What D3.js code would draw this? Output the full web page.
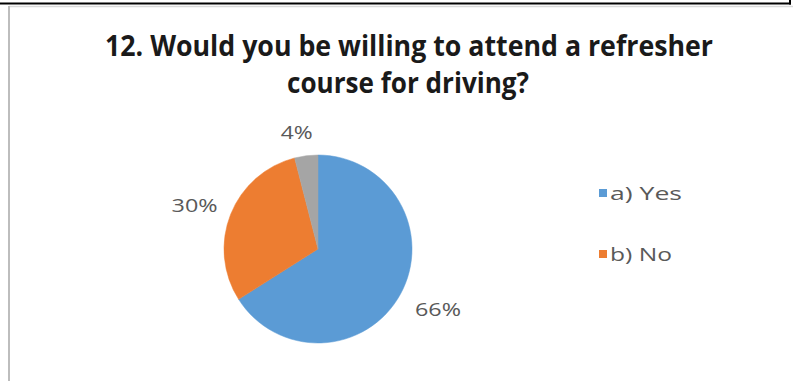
<!DOCTYPE html>
<html>
<head>
<meta charset="utf-8">
<script src="https://cdn.jsdelivr.net/npm/d3@7"></script>
<style>
  html, body { margin: 0; padding: 0; background: #fff; }
  svg { display: block; }
</style>
</head>
<body>
<svg id="chart" width="793" height="381"></svg>
<script>
// Survey answers
const categories = ["a) Yes", "b) No", "c) Other"];
const shares = [66, 30, 4];
const sliceColors = ["#5B9BD5", "#ED7D31", "#A5A5A5"];
const legendCategories = ["a) Yes", "b) No"];
const titleLines = ["12. Would you be willing to attend a refresher", "course for driving?"];

const svg = d3.select("#chart");
const W = 793, H = 381;

// frame: dark top rule with a soft grey edge under it, grey left edge
svg.append("line").attr("x1", 0).attr("x2", 791).attr("y1", 3.5).attr("y2", 3.5)
  .attr("stroke", "#000").attr("stroke-width", 2);
svg.append("line").attr("x1", 790).attr("x2", 790).attr("y1", 0).attr("y2", 4.5)
  .attr("stroke", "#000").attr("stroke-width", 2);
svg.append("line").attr("x1", 9).attr("x2", W).attr("y1", 6.5).attr("y2", 6.5)
  .attr("stroke", "#d9d9d9").attr("stroke-width", 1.5);
svg.append("line").attr("x1", 9).attr("x2", 9).attr("y1", 6).attr("y2", H)
  .attr("stroke", "#bdbdbd").attr("stroke-width", 2);

const font = "Open Sans, Lato, DejaVu Sans, sans-serif";

// title
const titleSpecs = [
  { y: 56, x: 105, len: 608 },
  { y: 93, x: 287, len: 242 }
];
titleLines.forEach((t, i) => {
  svg.append("text")
    .attr("x", titleSpecs[i].x)
    .attr("y", titleSpecs[i].y)
    .attr("textLength", titleSpecs[i].len)
    .attr("lengthAdjust", "spacingAndGlyphs")
    .attr("font-family", font)
    .attr("font-weight", "bold")
    .attr("font-size", 28)
    .attr("fill", "#1a1a1a")
    .text(t);
});

// pie
const cx = 318, cy = 249, r = 94;
const pie = d3.pie().sort(null).value(d => d)(shares);
const arc = d3.arc().innerRadius(0).outerRadius(r);
const color = d3.scaleOrdinal().domain(categories).range(sliceColors);

const g = svg.append("g").attr("transform", `translate(${cx},${cy})`);
g.selectAll("path").data(pie).enter().append("path")
  .attr("d", arc)
  .attr("fill", (d, i) => color(categories[i]))
  .attr("stroke", (d, i) => color(categories[i]))
  .attr("stroke-width", 0.5);

// percentage labels outside the slices
const labelArc = d3.arc().innerRadius(r + 28).outerRadius(r + 28);
const labelOffsets = [[13, 1], [-10, 1], [-6, 4]];
const labelWidths = [46, 46, 32];
g.selectAll("text.pct").data(pie).enter().append("text")
  .attr("class", "pct")
  .attr("transform", (d, i) => {
    const c = labelArc.centroid(d);
    return `translate(${c[0] + labelOffsets[i][0]},${c[1] + labelOffsets[i][1]})`;
  })
  .attr("text-anchor", "middle")
  .attr("dominant-baseline", "central")
  .attr("textLength", (d, i) => labelWidths[i])
  .attr("lengthAdjust", "spacingAndGlyphs")
  .attr("font-family", font)
  .attr("font-size", 19)
  .attr("fill", "#595959")
  .text(d => d.data + "%");

// legend
const legendY = d3.scalePoint().domain(legendCategories).range([193, 254]);
const legendWidths = [72, 62];
const lg = svg.append("g");
legendCategories.forEach((c, i) => {
  lg.append("rect")
    .attr("x", 599).attr("y", legendY(c) - 4)
    .attr("width", 8).attr("height", 8)
    .attr("fill", color(c));
  lg.append("text")
    .attr("x", 610).attr("y", legendY(c))
    .attr("dominant-baseline", "central")
    .attr("textLength", legendWidths[i])
    .attr("lengthAdjust", "spacingAndGlyphs")
    .attr("font-family", font)
    .attr("font-size", 19)
    .attr("fill", "#595959")
    .text(c);
});
</script>
</body>
</html>
